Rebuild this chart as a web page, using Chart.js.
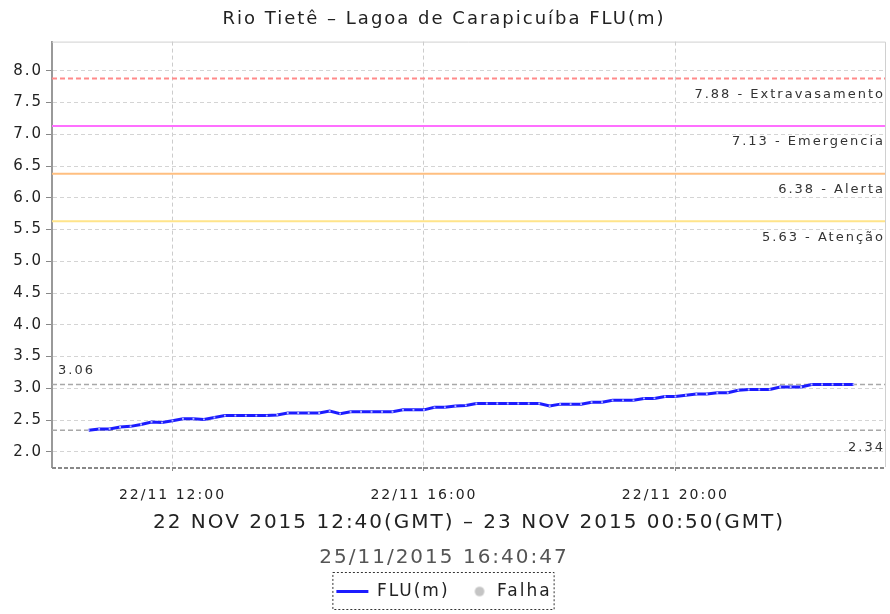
<!DOCTYPE html>
<html>
<head>
<meta charset="utf-8">
<title>Rio Tietê – Lagoa de Carapicuíba FLU(m)</title>
<script src="https://cdn.jsdelivr.net/npm/chart.js@4.4.1/dist/chart.umd.min.js"></script>
<style>
  html, body { margin: 0; padding: 0; background: #fff; }
  #wrap { width: 890px; height: 614px; }
</style>
</head>
<body>
<div id="wrap"><canvas id="chart1"></canvas></div>
<script>
// leituras a cada 10 min, 22/11 10:40 ate 22:50 (hora local, minutos desde 00:00)
var startMinute = 640;
var stepMinutes = 10;
var levels = [
  2.34, 2.36, 2.36, 2.39, 2.40, 2.43, 2.47, 2.46, 2.49, 2.52,
  2.52, 2.51, 2.54, 2.57, 2.57, 2.57, 2.57, 2.57, 2.58, 2.61,
  2.61, 2.61, 2.61, 2.64, 2.60, 2.63, 2.63, 2.63, 2.63, 2.63,
  2.66, 2.66, 2.66, 2.70, 2.70, 2.72, 2.73, 2.76, 2.76, 2.76,
  2.76, 2.76, 2.76, 2.76, 2.72, 2.75, 2.75, 2.75, 2.78, 2.78,
  2.81, 2.81, 2.81, 2.84, 2.84, 2.87, 2.87, 2.89, 2.91, 2.91,
  2.93, 2.93, 2.97, 2.98, 2.98, 2.98, 3.02, 3.02, 3.02, 3.06,
  3.06, 3.06, 3.06, 3.06
];

var xTicks = [720, 960, 1200];
var xTickLabels = ["22/11 12:00", "22/11 16:00", "22/11 20:00"];
var yTicks = [2.0, 2.5, 3.0, 3.5, 4.0, 4.5, 5.0, 5.5, 6.0, 6.5, 7.0, 7.5, 8.0];

var thresholdValues = [7.88, 7.13, 6.38, 5.63];
var thresholdNames = ["Extravasamento", "Emergencia", "Alerta", "Atenção"];
var thresholdColors = ["#ff8a8a", "#ff70ff", "#ffbf80", "#ffe48a"];

var xMin = 605, xMax = 1401;
var yMin = 1.76, yMax = 8.46;
var FONT = "DejaVu Sans";

var points = levels.map(function (v, i) {
  return { x: startMinute + i * stepMinutes, y: v };
});
var maxLevel = Math.max.apply(null, levels);
var minLevel = Math.min.apply(null, levels);

// bolinha cinza da legenda "Falha" (deslocada para perto do texto)
var falhaDot = document.createElement("canvas");
falhaDot.width = 26;
falhaDot.height = 12;
var dctx = falhaDot.getContext("2d");
dctx.fillStyle = "#c4c4c4";
dctx.beginPath();
dctx.arc(20, 6, 4.8, 0, Math.PI * 2);
dctx.fill();

var datasets = [
  {
    label: "FLU(m)",
    data: points,
    borderColor: "#1c1cff",
    borderWidth: 3,
    pointStyle: "rect",
    pointRadius: 1.3,
    pointBackgroundColor: "#b4b8ff",
    pointBorderWidth: 0,
    tension: 0
  },
  {
    label: "Falha",
    data: [],
    borderColor: "#c4c4c4",
    backgroundColor: "#c4c4c4",
    pointStyle: "circle",
    pointBackgroundColor: "#c4c4c4",
    pointBorderColor: "#c4c4c4",
    pointBorderWidth: 0
  },
  {
    label: "max",
    data: [{ x: xMin, y: maxLevel }, { x: xMax, y: maxLevel }],
    borderColor: "#a8a8a8",
    borderWidth: 1.5,
    borderDash: [5, 3],
    pointRadius: 0
  },
  {
    label: "min",
    data: [{ x: xMin, y: minLevel }, { x: xMax, y: minLevel }],
    borderColor: "#a8a8a8",
    borderWidth: 1.5,
    borderDash: [5, 3],
    pointRadius: 0
  }
];

thresholdValues.forEach(function (v, i) {
  datasets.push({
    label: thresholdNames[i],
    data: [{ x: xMin, y: v }, { x: xMax, y: v }],
    borderColor: thresholdColors[i],
    borderWidth: 2,
    borderDash: i === 0 ? [5, 3] : [],
    pointRadius: 0
  });
});

// texto com espacamento, como no grafico original
var spacingPlugin = {
  id: "spacing",
  beforeUpdate: function (chart) { chart.ctx.letterSpacing = "2px"; },
  beforeDraw: function (chart) { chart.ctx.letterSpacing = "2px"; }
};

var labelsPlugin = {
  id: "refLabels",
  afterDatasetsDraw: function (chart) {
    var ctx = chart.ctx;
    var area = chart.chartArea;
    var y = chart.scales.y;
    ctx.save();
    ctx.font = "13px " + FONT;
    ctx.fillStyle = "#333";
    ctx.textBaseline = "middle";
    ctx.textAlign = "right";
    thresholdValues.forEach(function (v, i) {
      ctx.fillText(v.toFixed(2) + " - " + thresholdNames[i], area.right - 1, y.getPixelForValue(v) + 16);
    });
    ctx.fillText(minLevel.toFixed(2), area.right - 1, y.getPixelForValue(minLevel) + 17);
    ctx.textAlign = "left";
    ctx.fillText(maxLevel.toFixed(2), area.left + 6, y.getPixelForValue(maxLevel) - 14);
    ctx.restore();
  }
};

var framePlugin = {
  id: "frame",
  afterDraw: function (chart) {
    var ctx = chart.ctx;
    var a = chart.chartArea;
    ctx.save();
    ctx.strokeStyle = "#d0d0d0";
    ctx.lineWidth = 1;
    ctx.beginPath();
    ctx.moveTo(a.left, a.top + 0.5);
    ctx.lineTo(a.right - 0.5, a.top + 0.5);
    ctx.lineTo(a.right - 0.5, a.bottom);
    ctx.stroke();
    ctx.strokeStyle = "#888";
    ctx.lineWidth = 2;
    ctx.setLineDash([4, 2]);
    ctx.beginPath();
    ctx.moveTo(a.left, a.bottom + 1);
    ctx.lineTo(a.right, a.bottom + 1);
    ctx.stroke();

    // caixa da legenda
    var boxes = chart.legend.legendHitBoxes;
    if (boxes && boxes.length) {
      var l = Math.min.apply(null, boxes.map(function (b) { return b.left; }));
      var r = Math.max.apply(null, boxes.map(function (b) { return b.left + b.width; }));
      var t = Math.min.apply(null, boxes.map(function (b) { return b.top; }));
      var bt = Math.max.apply(null, boxes.map(function (b) { return b.top + b.height; }));
      ctx.strokeStyle = "#333";
      ctx.lineWidth = 1;
      ctx.setLineDash([2, 2]);
      ctx.strokeRect(l - 3.5, t - 10.5, r - l + 6, bt - t + 20);
    }
    ctx.restore();
  }
};

var ctx = document.getElementById("chart1").getContext("2d");
var chart1 = new Chart(ctx, {
  type: "line",
  data: { datasets: datasets },
  plugins: [spacingPlugin, labelsPlugin, framePlugin],
  options: {
    responsive: true,
    maintainAspectRatio: false,
    animation: false,
    devicePixelRatio: 1,
    layout: { padding: { left: 0, right: 2, top: 0, bottom: 4 } },
    scales: {
      x: {
        type: "linear",
        min: xMin,
        max: xMax,
        afterBuildTicks: function (axis) {
          axis.ticks = xTicks.map(function (v) { return { value: v }; });
        },
        afterFit: function (axis) { axis.height = 68; },
        ticks: {
          font: { family: FONT, size: 14 },
          color: "#222",
          padding: 16,
          maxRotation: 0,
          autoSkip: false,
          callback: function (v) { return xTickLabels[xTicks.indexOf(v)]; }
        },
        grid: { color: "#cccccc", tickLength: 4, tickColor: "#888", tickBorderDash: [] },
        border: { display: false, dash: [4, 3] },
        title: {
          display: true,
          text: "22 NOV 2015 12:40(GMT) – 23 NOV 2015 00:50(GMT)",
          font: { family: FONT, size: 20 },
          color: "#222",
          padding: { top: 0, bottom: 0 }
        }
      },
      y: {
        min: yMin,
        max: yMax,
        afterBuildTicks: function (axis) {
          axis.ticks = yTicks.map(function (v) { return { value: v }; });
        },
        afterFit: function (axis) { axis.width = 52; },
        ticks: {
          font: { family: FONT, size: 15 },
          color: "#222",
          padding: 3,
          callback: function (v) { return v.toFixed(1); }
        },
        grid: { color: "#d4d4d4", tickLength: 6, tickColor: "#888", tickBorderDash: [] },
        border: { color: "#999", width: 2, dash: [4, 3] }
      }
    },
    plugins: {
      title: {
        display: true,
        text: "Rio Tietê – Lagoa de Carapicuíba FLU(m)",
        font: { family: FONT, size: 18, weight: "normal" },
        color: "#222",
        padding: { top: 9, bottom: 11 }
      },
      subtitle: {
        display: true,
        position: "bottom",
        weight: 500,
        text: "25/11/2015 16:40:47",
        font: { family: FONT, size: 20 },
        color: "#555",
        padding: { top: 11, bottom: 6 }
      },
      legend: {
        position: "bottom",
        labels: {
          usePointStyle: true,
          pointStyleWidth: 32,
          boxHeight: 6,
          padding: 7,
          font: { family: FONT, size: 17 },
          color: "#222",
          generateLabels: function (chart) {
            var items = Chart.defaults.plugins.legend.labels.generateLabels(chart);
            items = items.filter(function (it) { return it.datasetIndex < 2; });
            items[0].pointStyle = "line";
            items[0].strokeStyle = "#1c1cff";
            items[0].lineWidth = 3;
            items[1].pointStyle = falhaDot;
            return items;
          }
        }
      },
      tooltip: { enabled: false }
    }
  }
});
</script>
</body>
</html>
